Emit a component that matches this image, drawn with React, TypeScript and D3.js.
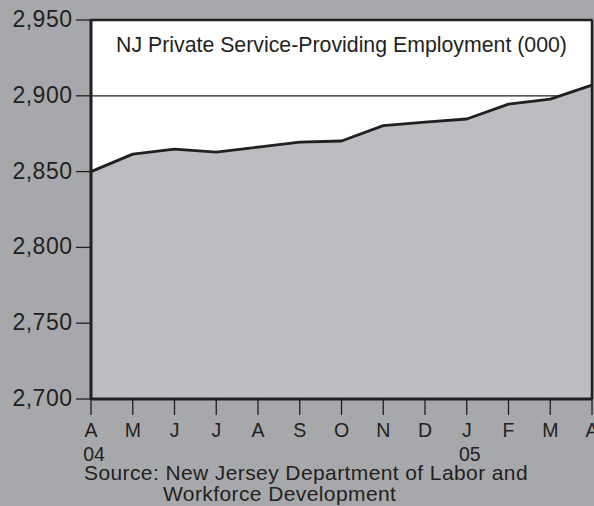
import React from "react";
import * as d3 from "d3";

const months = ["A", "M", "J", "J", "A", "S", "O", "N", "D", "J", "F", "M", "A"];
const yearLabels = ["04", "", "", "", "", "", "", "", "", "05", "", "", ""];
const employment = [2850, 2861.5, 2864.8, 2862.8, 2866.2, 2869.4, 2870.2, 2880.3, 2882.6, 2884.7, 2894.5, 2897.8, 2907];
const yTicks = [2700, 2750, 2800, 2850, 2900, 2950];
const gridValues = [2900];
const title = "NJ Private Service-Providing Employment (000)";
const sourceLines = ["Source: New Jersey Department of Labor and", "Workforce Development"];

const W = 594;
const H = 506;
const left = 91;
const right = 592;
const top = 20;
const bottom = 399;
const font = "'Liberation Sans', Arial, sans-serif";
const ink = "#231f20";

export default function App() {
  const x = d3.scalePoint<number>().domain(months.map((_, i) => i)).range([left, right]);
  const y = d3.scaleLinear().domain([2700, 2950]).range([bottom, top]);
  const idx = months.map((_, i) => i);
  const area = d3
    .area<number>()
    .x((i) => x(i)!)
    .y0(bottom)
    .y1((i) => y(employment[i]));
  const line = d3
    .line<number>()
    .x((i) => x(i)!)
    .y((i) => y(employment[i]));

  return (
    <div style={{ position: "fixed", left: 0, top: 0, width: W, height: H }}>
      <svg width={W} height={H} style={{ display: "block" }}>
        <rect x={0} y={0} width={W} height={H} fill="#a7a8ab" />
        <rect x={left} y={top} width={right - left} height={bottom - top} fill="#ffffff" />
        {gridValues.map((v) => (
          <line key={v} x1={left} x2={right} y1={y(v)} y2={y(v)} stroke={ink} strokeWidth={1.2} />
        ))}
        <path d={area(idx)!} fill="#bcbdc0" />
        <path d={line(idx)!} fill="none" stroke={ink} strokeWidth={2.8} strokeLinejoin="round" />
        <text
          x={(left + right) / 2}
          y={52}
          textAnchor="middle"
          fontFamily={font}
          fontSize={21.3}
          fill={ink}
        >
          {title}
        </text>
        {/* frame */}
        <line x1={left} x2={right + 0.5} y1={top} y2={top} stroke={ink} strokeWidth={2.5} />
        <line x1={right} x2={right} y1={top} y2={bottom} stroke={ink} strokeWidth={2.5} />
        <line x1={left} x2={left} y1={top - 1} y2={bottom + 1} stroke={ink} strokeWidth={3} />
        <line x1={left} x2={right + 1} y1={bottom} y2={bottom} stroke={ink} strokeWidth={3} />
        {/* y axis */}
        {yTicks.map((v) => (
          <g key={v}>
            <line x1={76} x2={left} y1={y(v)} y2={y(v)} stroke={ink} strokeWidth={1.3} />
            <text
              x={72.5}
              y={y(v)}
              dy="0.3em"
              textAnchor="end"
              fontFamily={font}
              fontSize={23}
              letterSpacing={0.5}
              fill={ink}
            >
              {d3.format(",")(v)}
            </text>
          </g>
        ))}
        {/* x axis */}
        {idx.map((i) => (
          <g key={i}>
            <line x1={x(i)} x2={x(i)} y1={bottom} y2={415} stroke={ink} strokeWidth={1.3} />
            <text x={x(i)} y={436.5} textAnchor="middle" fontFamily={font} fontSize={19.5} fill={ink}>
              {months[i]}
            </text>
            {yearLabels[i] && (
              <text x={x(i)! + 3} y={461} textAnchor="middle" fontFamily={font} fontSize={19.5} fill={ink}>
                {yearLabels[i]}
              </text>
            )}
          </g>
        ))}
        <text x={84} y={480} fontFamily={font} fontSize={21} letterSpacing={0.4} fill={ink}>
          {sourceLines[0]}
        </text>
        <text x={163} y={501} fontFamily={font} fontSize={21} letterSpacing={0.4} fill={ink}>
          {sourceLines[1]}
        </text>
      </svg>
    </div>
  );
}
